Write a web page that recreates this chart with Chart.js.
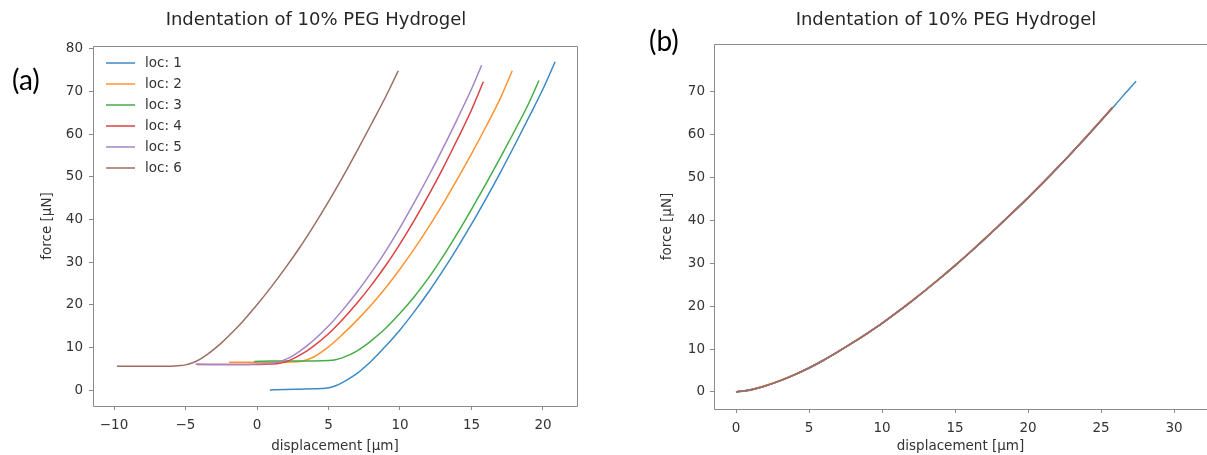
<!DOCTYPE html>
<html><head><meta charset="utf-8">
<script src="https://cdn.jsdelivr.net/npm/chart.js@4.4.1/dist/chart.umd.min.js"></script>
<style>
html,body{margin:0;padding:0;background:#fff;width:1207px;height:455px;overflow:hidden;}
#wrap{position:relative;width:1207px;height:455px;overflow:hidden;}
canvas{position:absolute;top:0;}
.title{position:absolute;font-family:"DejaVu Sans",sans-serif;font-size:18px;color:#262626;white-space:nowrap;transform:translateX(-50%);line-height:22px;}
.panel{position:absolute;font-family:Lato,"Open Sans",sans-serif;font-size:28px;color:#000;line-height:32px;}
</style></head><body>
<div id="wrap">
<canvas id="left" width="610" height="455" style="left:0px"></canvas>
<canvas id="right" width="587" height="455" style="left:620px"></canvas>
<div class="title" style="left:316px;top:8px">Indentation of 10% PEG Hydrogel</div>
<div class="title" style="left:946px;top:8px">Indentation of 10% PEG Hydrogel</div>
<div class="panel" style="left:12px;top:63px">(a)</div>
<div class="panel" style="left:649px;top:24px">(b)</div>
</div>
<script>
// ---------- DATA ----------
const seriesLabels = ["loc: 1", "loc: 2", "loc: 3", "loc: 4", "loc: 5", "loc: 6"];
const seriesColors = ["#3c8ac4", "#ff9330", "#45ad45", "#dd4141", "#a386c6", "#9c6e63"];

// (a) raw indentation curves
const loc1Disp  = [0.9, 2, 3, 4, 4.8, 5.5, 6, 6.5, 7, 7.5, 8, 9, 10, 11, 12, 13, 14, 15, 16, 17, 18, 19, 20, 20.85];
const loc1Force = [0.0, 0.1, 0.2, 0.3, 0.4, 1.0, 1.8, 2.8, 3.9, 5.3, 6.8, 10.3, 14.1, 18.4, 23.0, 28.0, 33.3, 38.9, 44.8, 50.9, 57.3, 63.9, 70.6, 77.0];

const loc2Disp  = [-1.95, -1, 0, 1, 2, 2.5, 3, 3.5, 4, 5, 6, 7, 8, 9, 10, 11, 12, 13, 14, 15, 16, 17, 17.85];
const loc2Force = [6.5, 6.5, 6.5, 6.5, 6.5, 6.6, 6.7, 7.1, 7.8, 10.1, 13.1, 16.4, 20.0, 24.0, 28.4, 33.1, 38.2, 43.6, 49.4, 55.4, 61.7, 68.3, 74.9];

const loc3Disp  = [-0.2, 1, 2, 3, 4, 5, 5.5, 6, 6.5, 7, 7.5, 8, 9, 10, 11, 12, 13, 14, 15, 16, 17, 18, 19, 19.72];
const loc3Force = [6.7, 6.8, 6.8, 6.8, 6.8, 6.9, 7.1, 7.6, 8.3, 9.2, 10.3, 11.6, 14.5, 18.0, 21.9, 26.3, 31.3, 36.7, 42.4, 48.3, 54.4, 60.7, 67.2, 72.6];

const loc4Disp  = [-4.2, -3, -2, -1, 0, 1, 1.5, 2, 2.5, 3, 3.5, 4, 5, 6, 7, 8, 9, 10, 11, 12, 13, 14, 15, 15.83];
const loc4Force = [6.0, 6.0, 6.0, 6.0, 6.0, 6.1, 6.2, 6.6, 7.3, 8.2, 9.2, 10.4, 13.2, 16.6, 20.4, 24.6, 29.2, 34.3, 39.8, 45.7, 52.0, 58.7, 65.7, 72.3];

const loc5Disp  = [-4.3, -3, -2, -1, 0, 1, 1.5, 2, 2.5, 3, 3.5, 4, 5, 6, 7, 8, 9, 10, 11, 12, 13, 14, 15, 15.71];
const loc5Force = [6.1, 6.0, 6.0, 6.0, 6.1, 6.3, 6.6, 7.2, 8.0, 9.1, 10.4, 11.8, 15.0, 18.8, 23.0, 27.6, 32.6, 38.1, 44.0, 50.2, 56.7, 63.5, 70.6, 76.2];

const loc6Disp  = [-9.8, -9, -8, -7, -6, -5.5, -5, -4.5, -4, -3.5, -3, -2.5, -2, -1, 0, 1, 2, 3, 4, 5, 6, 7, 8, 9, 9.88];
const loc6Force = [5.6, 5.6, 5.6, 5.6, 5.6, 5.7, 5.9, 6.4, 7.2, 8.3, 9.6, 11.0, 12.6, 16.1, 20.0, 24.2, 28.7, 33.5, 38.7, 44.2, 50.0, 56.1, 62.4, 68.8, 74.9];

// (b) aligned curves
const alignedDisp     = [0, 1, 2, 3, 4, 5, 6, 7, 8, 9, 10, 11, 12, 13, 14, 15, 16, 17, 18, 19, 20, 21, 22, 23, 24, 25, 25.8];
const alignedDispLoc1 = [0, 1, 2, 3, 4, 5, 6, 7, 8, 9, 10, 11, 12, 13, 14, 15, 16, 17, 18, 19, 20, 21, 22, 23, 24, 25, 26, 27, 27.4];
const aligned1 = [0, 0.5, 1.4, 2.6, 4.0, 5.6, 7.4, 9.4, 11.5, 13.7, 16.0, 18.5, 21.1, 23.8, 26.6, 29.5, 32.5, 35.6, 38.8, 42.0, 45.3, 48.7, 52.2, 55.8, 59.5, 63.3, 67.1, 71.0, 72.5];
const aligned2 = [0, 0.5, 1.5, 2.7, 4.1, 5.7, 7.5, 9.5, 11.6, 13.8, 16.1, 18.6, 21.2, 23.9, 26.7, 29.6, 32.6, 35.7, 38.9, 42.1, 45.4, 48.8, 52.3, 55.9, 59.6, 63.4, 66.4];
const aligned3 = [0, 0.4, 1.4, 2.6, 4.0, 5.6, 7.4, 9.4, 11.5, 13.7, 16.0, 18.5, 21.1, 23.8, 26.6, 29.5, 32.5, 35.6, 38.8, 42.0, 45.3, 48.7, 52.2, 55.8, 59.5, 63.3, 66.3];
const aligned4 = [0, 0.5, 1.4, 2.6, 4.0, 5.6, 7.4, 9.4, 11.5, 13.7, 16.0, 18.5, 21.1, 23.8, 26.6, 29.5, 32.5, 35.6, 38.8, 42.1, 45.4, 48.8, 52.3, 55.9, 59.6, 63.4, 66.5];
const aligned5 = [0, 0.5, 1.4, 2.6, 4.0, 5.6, 7.4, 9.4, 11.5, 13.7, 16.0, 18.5, 21.1, 23.8, 26.6, 29.5, 32.5, 35.6, 38.8, 42.0, 45.3, 48.7, 52.2, 55.8, 59.5, 63.3, 66.4];
const aligned6 = [0, 0.5, 1.4, 2.6, 4.0, 5.6, 7.4, 9.4, 11.5, 13.7, 16.0, 18.5, 21.1, 23.8, 26.6, 29.5, 32.5, 35.6, 38.8, 42.0, 45.3, 48.7, 52.2, 55.8, 59.5, 63.3, 66.4];

// ticks
const leftXTicks  = [-10, -5, 0, 5, 10, 15, 20];
const leftYTicks  = [0, 10, 20, 30, 40, 50, 60, 70, 80];
const rightXTicks = [0, 5, 10, 15, 20, 25, 30];
const rightYTicks = [0, 10, 20, 30, 40, 50, 60, 70];

const xTitle = "displacement [\u03bcm]";
const yTitle = "force [\u03bcN]";

// ---------- RENDER ----------
const SPINE = "#8a8a8a";
const TXT = "#333333";
const FONT = "'DejaVu Sans', sans-serif";
const FSIZE = 13.5;

function pts(xs, ys) { return xs.map((x, i) => ({x: x, y: ys[i]})); }
function fmt(v) { return v < 0 ? "\u2212" + Math.abs(v) : String(v); }

const boxPlugin = {
  id: "box",
  afterDatasetsDraw(chart, args, opts) {
    const {ctx, chartArea: a} = chart;
    const l = Math.round(a.left) + 0.5, t = Math.round(a.top) + 0.5;
    const r = Math.round(a.right) + 0.5, b = Math.round(a.bottom) + 0.5;
    ctx.save();
    ctx.strokeStyle = SPINE;
    ctx.lineWidth = 1;
    ctx.beginPath();
    ctx.moveTo(r + (opts.right ? 0 : 20), t);
    ctx.lineTo(l, t);
    ctx.lineTo(l, b);
    ctx.lineTo(r + (opts.right ? 0 : 20), b);
    if (opts.right) { ctx.lineTo(r, t); }
    ctx.stroke();
    ctx.restore();
  }
};

const innerLegend = {
  id: "innerLegend",
  afterDraw(chart, args, opts) {
    if (!opts || !opts.show) return;
    const {ctx, chartArea: a} = chart;
    ctx.save();
    ctx.font = FSIZE + "px " + FONT;
    ctx.textBaseline = "middle";
    ctx.textAlign = "left";
    chart.data.datasets.forEach((ds, i) => {
      const y = a.top + 17 + i * 21;
      ctx.strokeStyle = ds.borderColor;
      ctx.lineWidth = 1.5;
      ctx.beginPath();
      ctx.moveTo(a.left + 13, y);
      ctx.lineTo(a.left + 42, y);
      ctx.stroke();
      ctx.fillStyle = TXT;
      ctx.fillText(ds.label, a.left + 52, y + 0.5);
    });
    ctx.restore();
  }
};

function makeDatasets(list) {
  return list.map((d, i) => ({
    label: seriesLabels[i],
    data: pts(d[0], d[1]),
    borderColor: seriesColors[i],
    backgroundColor: seriesColors[i],
    borderWidth: 1.5,
    pointRadius: 0,
    showLine: true,
    fill: false,
    cubicInterpolationMode: "monotone",
    order: 6 - i
  }));
}

function makeChart(id, datasets, cfg) {
  return new Chart(document.getElementById(id), {
    type: "scatter",
    data: {datasets: datasets},
    plugins: [boxPlugin, innerLegend],
    options: {
      responsive: false,
      animation: false,
      devicePixelRatio: 1,
      layout: {padding: {left: cfg.padLeft, right: cfg.padRight, top: cfg.padTop, bottom: 0}},
      plugins: {
        legend: {display: false},
        tooltip: {enabled: false},
        title: {display: false},
        innerLegend: {show: cfg.legend},
        box: {right: cfg.rightSpine}
      },
      scales: {
        x: {
          type: "linear",
          min: cfg.xMin, max: cfg.xMax,
          afterBuildTicks: s => { s.ticks = cfg.xTicks.map(v => ({value: v})); },
          afterFit: s => { s.height = cfg.xHeight; },
          ticks: {callback: fmt, color: TXT, font: {family: FONT, size: FSIZE}, padding: cfg.xTickPad, maxRotation: 0, autoSkip: false},
          grid: {display: true, drawOnChartArea: false, drawTicks: true, tickLength: 4, color: SPINE},
          border: {display: false},
          title: {display: true, text: xTitle, color: TXT, font: {family: FONT, size: FSIZE}, padding: {top: 0, bottom: 0}}
        },
        y: {
          type: "linear",
          min: cfg.yMin, max: cfg.yMax,
          afterBuildTicks: s => { s.ticks = cfg.yTicks.map(v => ({value: v})); },
          afterFit: s => { s.width = cfg.yWidth; },
          ticks: {callback: fmt, color: TXT, font: {family: FONT, size: FSIZE}, padding: cfg.yTickPad, autoSkip: false},
          grid: {display: true, drawOnChartArea: false, drawTicks: true, tickLength: 4, color: SPINE},
          border: {display: false},
          title: {display: true, text: yTitle, color: TXT, font: {family: FONT, size: FSIZE}, padding: {top: 0, bottom: 0}}
        }
      }
    }
  });
}

makeChart("left", makeDatasets([
  [loc1Disp, loc1Force], [loc2Disp, loc2Force], [loc3Disp, loc3Force],
  [loc4Disp, loc4Force], [loc5Disp, loc5Force], [loc6Disp, loc6Force]
]), {
  xMin: -11.47, xMax: 22.38, yMin: -3.75, yMax: 80.7,
  xTicks: leftXTicks, yTicks: leftYTicks,
  padLeft: 39, padRight: 33, padTop: 46, yWidth: 54, xHeight: 49,
  xTickPad: 7, yTickPad: 6, legend: true, rightSpine: true
});

makeChart("right", makeDatasets([
  [alignedDispLoc1, aligned1], [alignedDisp, aligned2], [alignedDisp, aligned3],
  [alignedDisp, aligned4], [alignedDisp, aligned5], [alignedDisp, aligned6]
]), {
  xMin: -1.507, xMax: 32.26, yMin: -3.97, yMax: 81.2,
  xTicks: rightXTicks, yTicks: rightYTicks,
  padLeft: 39, padRight: 0, padTop: 44, yWidth: 55, xHeight: 46,
  xTickPad: 7, yTickPad: 5, legend: false, rightSpine: false
});
</script>
</body></html>
